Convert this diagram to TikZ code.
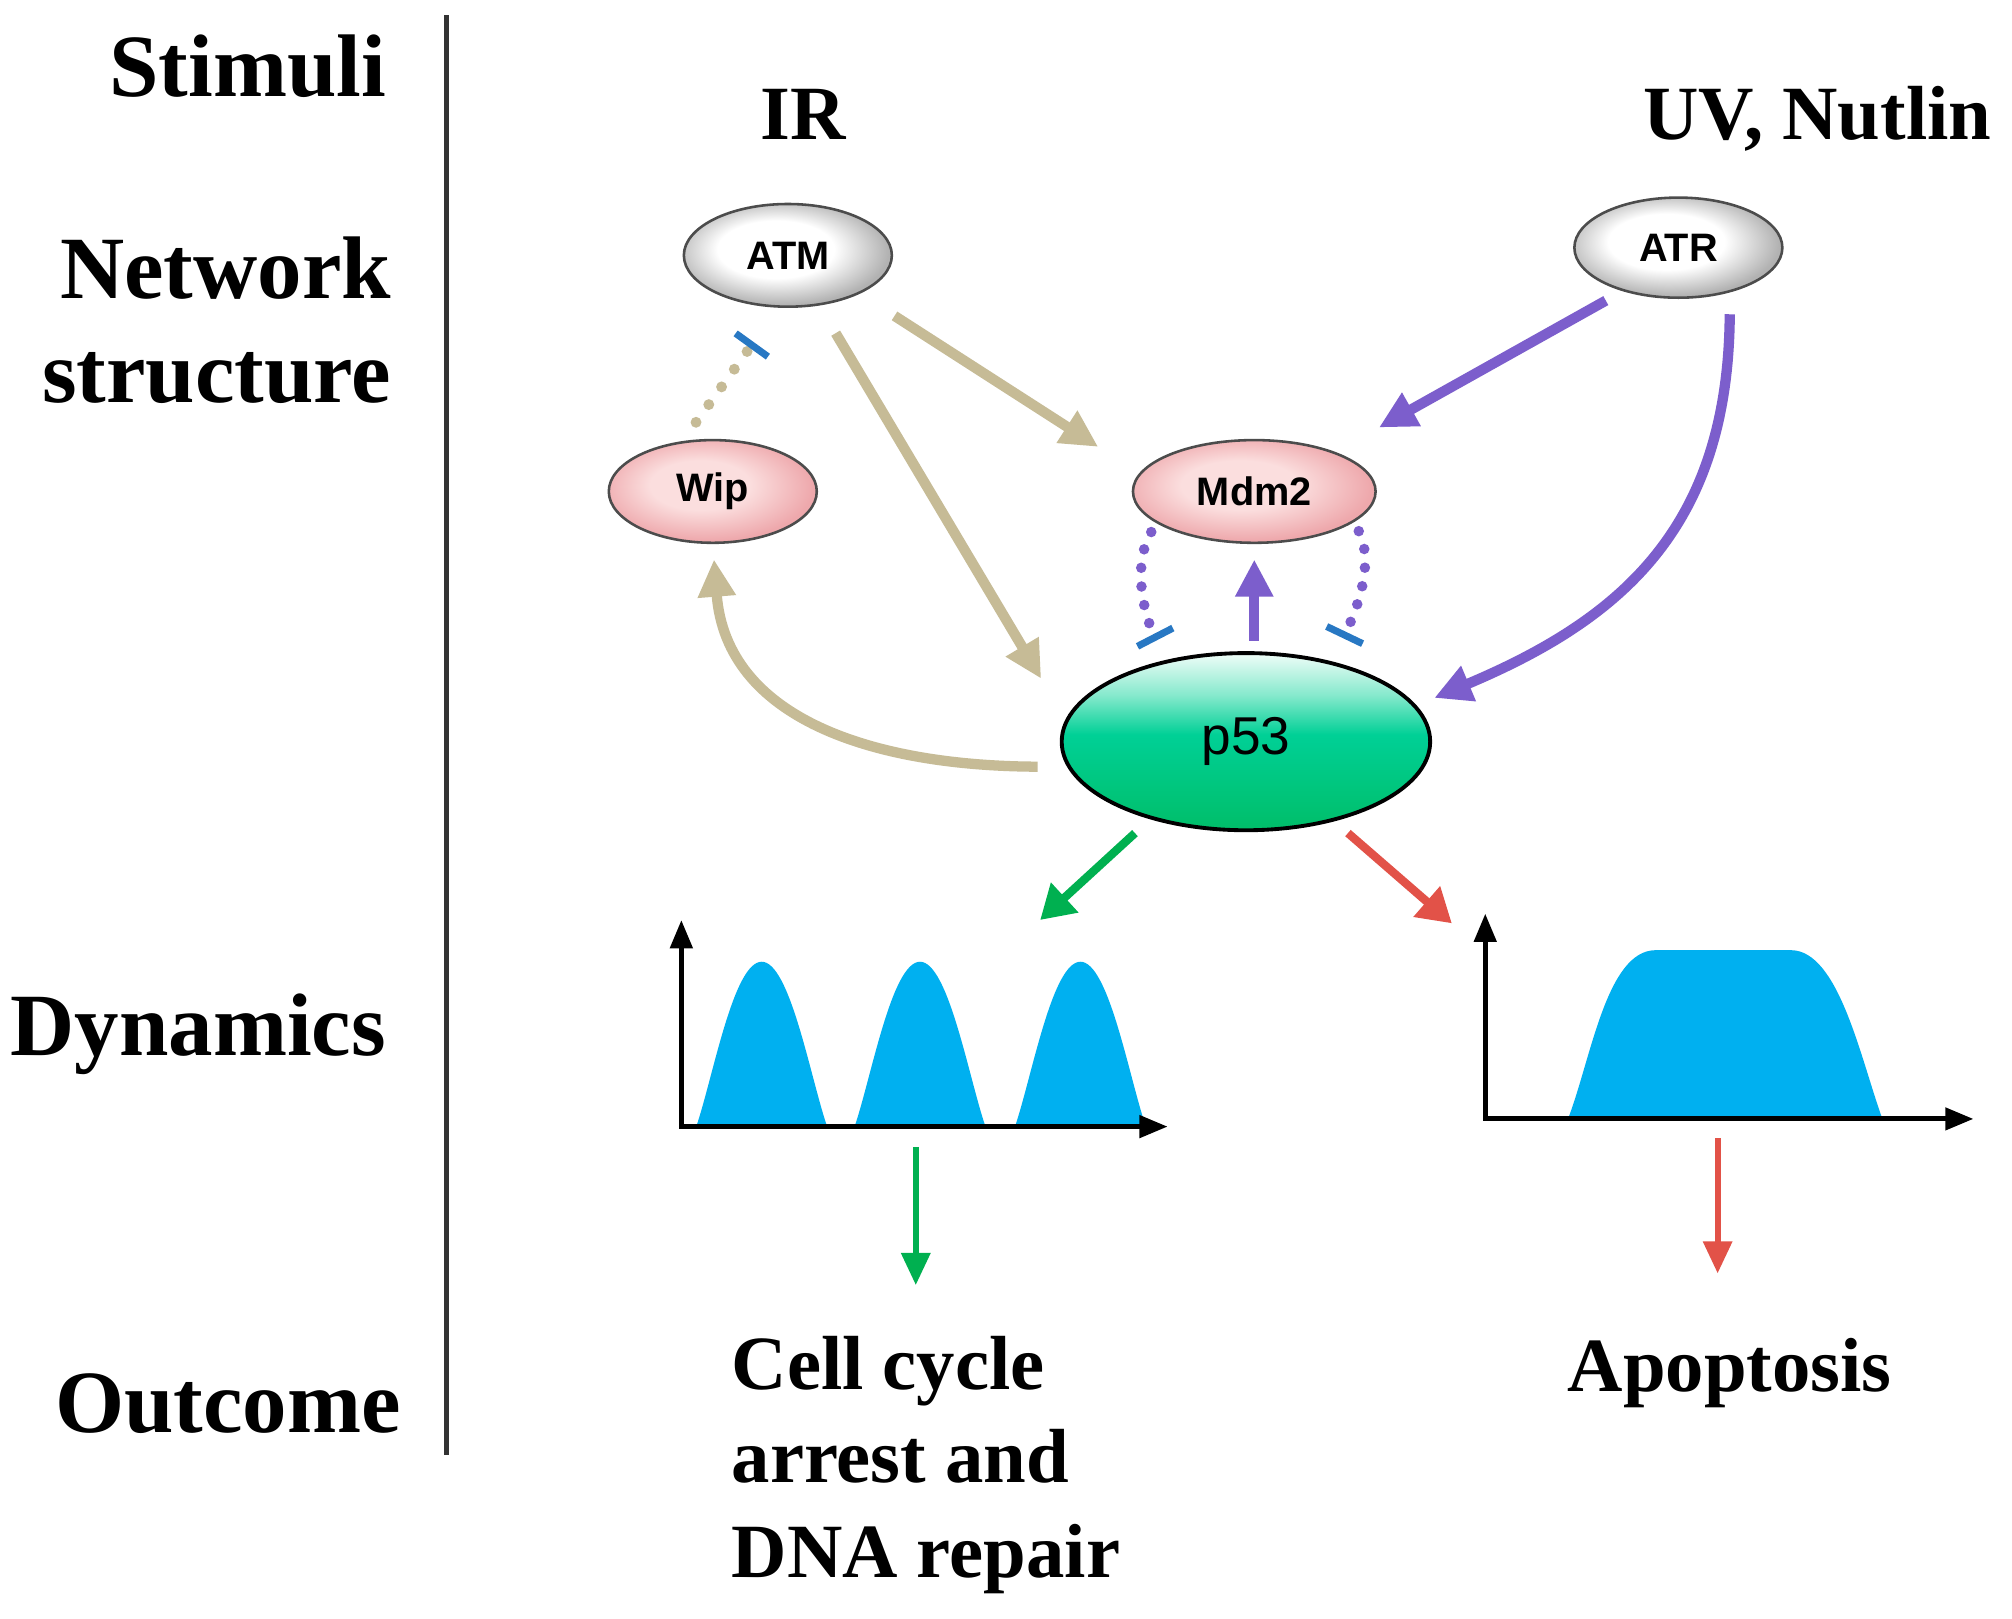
\documentclass[tikz,border=0pt]{standalone}
\usepackage{fontspec}
\setmainfont{Liberation Serif}
\newfontfamily\labelsans{Liberation Sans}
\usetikzlibrary{arrows.meta,shapes.geometric}

\definecolor{tanarrow}{RGB}{198,187,150}
\definecolor{purarrow}{RGB}{124,94,204}
\definecolor{inhblue}{RGB}{40,120,195}
\definecolor{okgreen}{RGB}{0,176,80}
\definecolor{apored}{RGB}{226,82,72}
\definecolor{skyfill}{RGB}{0,176,240}
\definecolor{pinkin}{RGB}{251,222,222}
\definecolor{pinkout}{RGB}{238,168,172}
\definecolor{minttop}{RGB}{240,253,248}
\definecolor{mintmid}{RGB}{0,208,150}
\definecolor{mintbot}{RGB}{0,190,105}
\pgfdeclareverticalshading{pfivethree}{100bp}{color(0bp)=(mintbot); color(25bp)=(mintbot); color(52bp)=(mintmid); color(63bp)=(mintmid!45!minttop); color(75bp)=(minttop); color(100bp)=(minttop)}
\pgfdeclareradialshading{kinaseglow}{\pgfpoint{-4bp}{4bp}}{color(0bp)=(white); color(14bp)=(white); color(26bp)=(black!30); color(50bp)=(black!30)}
\pgfdeclareradialshading{targetglow}{\pgfpoint{-4bp}{4bp}}{color(0bp)=(pinkin); color(12bp)=(pinkin); color(26bp)=(pinkout); color(50bp)=(pinkout)}

\begin{document}
\begin{tikzpicture}[x=0.01cm,y=-0.01cm,
	stage/.style={inner sep=0pt,font=\fontsize{19.7}{23}\selectfont\bfseries},
	cue/.style={inner sep=0pt,font=\fontsize{17}{20}\selectfont\bfseries},
	kinase/.style={ellipse,draw=black!70,line width=0.02cm,inner sep=0pt,minimum width=1.62cm,minimum height=0.8cm,shading=kinaseglow,font=\labelsans\bfseries\fontsize{8.8}{10}\selectfont},
	target/.style={kinase,shading=targetglow},
	tanarr/.style={color=tanarrow,line width=0.08cm,-{Triangle[length=0.29cm,width=0.28cm]}},
	purarr/.style={tanarr,color=purarrow},
	tandot/.style={color=tanarrow,line width=0.085cm,line cap=round,dash pattern=on 0pt off 0.17cm,-{Bar[width=0.31cm,line width=0.055cm,color=inhblue]}},
	purdot/.style={tandot,color=purarrow,line width=0.082cm,dash pattern=on 0pt off 0.146cm},
	grnarr/.style={color=okgreen,line width=0.065cm,-{Triangle[length=0.26cm,width=0.3cm]}},
	redarr/.style={grnarr,color=apored},
	grndown/.style={color=okgreen,line width=0.045cm,-{Triangle[length=0.25cm,width=0.22cm]}},
	reddown/.style={grndown,color=apored},
	axisarr/.style={line width=0.04cm,{Triangle[length=0.22cm,width=0.17cm]}-{Triangle[length=0.22cm,width=0.17cm]}}]
	\path[fill=white] (0,0) rectangle (1568,1261.7);
	\useasboundingbox (0,0) rectangle (1568,1261.7);

	\draw[line width=0.045cm,black!80] (348,11.7)--(348,1134);
	\node[stage,anchor=base east] (stimuli) at (301.5,75.4) {Stimuli};
	\node[stage,anchor=base east] (network) at (305.4,232.5) {Network};
	\node[stage,anchor=base east] (structure) at (305.4,314) {structure};
	\node[stage,anchor=base east] (dynamics) at (301.4,822.3) {Dynamics};
	\node[stage,anchor=base east] (outcome) at (313,1116) {Outcome};

	\node[cue,anchor=base] (IR) at (626,109) {IR};
	\node[cue,anchor=base] (UV) at (1416.3,109) {UV, Nutlin};

	\node[kinase] (ATM) at (614,199) {ATM};
	\node[kinase,minimum height=0.78cm] (ATR) at (1308,193) {ATR};
	\node[target] (Wip) at (555.5,383) {Wip};
	\node[target,minimum width=1.89cm] (Mdm2) at (977.5,383) {Mdm2};
	\node[ellipse,draw,line width=0.03cm,minimum width=2.87cm,minimum height=1.38cm,shading=pfivethree,font=\labelsans\fontsize{11.8}{13}\selectfont] (p53) at (971,578) {p53};

	\draw[tanarr,shorten <=0.32cm,shorten >=0.38cm] (ATM.-28)--(Mdm2.171);
	\draw[tanarr,shorten <=0.25cm,shorten >=0.37cm] (ATM.-58)--(p53.173);
	\draw[tanarr,shorten <=0.23cm,shorten >=0.12cm] (p53.188) .. controls (680,597) and (566,560) .. (Wip.-90);
	\draw[tandot,shorten <=0.18cm,shorten >=0.33cm] (Wip.121)--(ATM.-100);
	\draw[purarr,shorten <=0.15cm,shorten >=0.39cm] (ATR.-142)--(Mdm2.26);
	\draw[purarr,shorten <=0.17cm,shorten >=0.15cm] (ATR.-41) .. controls (1347,410) and (1265,482) .. (p53.12);
	\draw[purarr,shorten <=0.08cm,shorten >=0.12cm] (Mdm2.south |- p53.north)--(Mdm2.south);
	\draw[purdot,shorten <=0.08cm,shorten >=0.17cm] (Mdm2.-162) .. controls (882,440) and (891.7,480) .. (p53.134);
	\draw[purdot,shorten <=0.08cm,shorten >=0.2cm] (Mdm2.-17) .. controls (1072,440) and (1056,478) .. (p53.43);

	\coordinate (osc-in) at (810.6,717);
	\coordinate (sus-in) at (1131.5,719.6);
	\draw[grnarr,shorten <=0.16cm] (p53.-141)--(osc-in);
	\draw[redarr,shorten <=0.14cm] (p53.-42)--(sus-in);

	\foreach \c in {593.6,717,842}
		\fill[skyfill] (\c-51,878) .. controls (\c-38,840) and (\c-22,749.5) .. (\c,749.5) .. controls (\c+22,749.5) and (\c+38,840) .. (\c+51,878) -- cycle;
	\draw[axisarr] (531,717) |- (910,878);
	\fill[skyfill] (1222,872) .. controls (1240,825) and (1252,741) .. (1290,740.5) -- (1396,740.5) .. controls (1433,741) and (1450,825) .. (1467,872) -- cycle;
	\draw[axisarr] (1157.5,712) |- (1538,872);

	\coordinate (osc-out) at (713.7,893.7);
	\coordinate (arrest-in) at (713.7,1001.5);
	\coordinate (sus-out) at (1338.6,887);
	\coordinate (apop-in) at (1338.6,992.4);
	\draw[grndown] (osc-out)--(arrest-in);
	\draw[reddown] (sus-out)--(apop-in);

	\node[cue,anchor=base west] (arrest1) at (569.5,1083) {Cell cycle};
	\node[cue,anchor=base west] (arrest2) at (569.5,1155) {arrest and};
	\node[cue,anchor=base west] (arrest3) at (569.5,1229) {DNA repair};
	\node[cue,anchor=base west] (apoptosis) at (1221,1084.7) {Apoptosis};
\end{tikzpicture}
\end{document}
